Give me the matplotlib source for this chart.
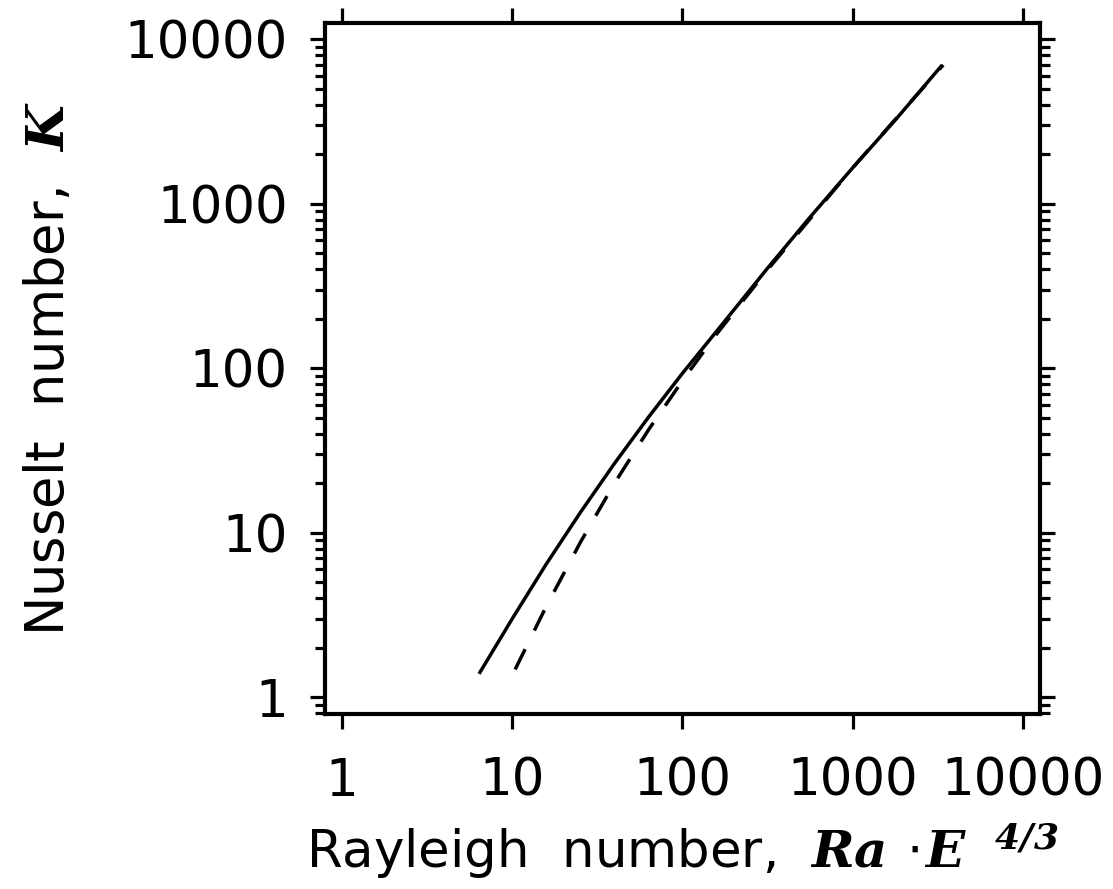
import matplotlib
matplotlib.use("Agg")
import matplotlib.pyplot as plt
from matplotlib.ticker import LogLocator, FixedLocator, FixedFormatter, NullFormatter

# solid curve
ra_solid = [6.46, 10, 15.8, 25.1, 39.8, 63.1, 100, 178, 316, 562, 1000, 1778, 3296]
nu_solid = [1.42, 3.01, 6.44, 13.3, 26.4, 50.5, 93.5, 195, 407, 832, 1660, 3236, 6850]

# dashed curve
ra_dash = [10.4, 15.8, 25.1, 39.8, 63.1, 100, 158, 316, 1000, 3400]
nu_dash = [1.48, 3.56, 8.75, 20.0, 42.3, 84.3, 161, 398, 1660, 7000]

tick_vals = [1, 10, 100, 1000, 10000]
tick_labels = ["1", "10", "100", "1000", "10000"]

plt.rcParams['font.family'] = 'DejaVu Sans'
plt.rcParams['mathtext.fontset'] = 'custom'
plt.rcParams['mathtext.it'] = 'DejaVu Serif:italic:bold'
plt.rcParams['mathtext.bf'] = 'DejaVu Serif:italic:bold'
plt.rcParams['mathtext.rm'] = 'DejaVu Sans'

fig = plt.figure(figsize=(11.13, 8.89), dpi=100)
ax = fig.add_axes([0.292, 0.197, 0.6424, 0.7771])

ax.plot(ra_solid, nu_solid, color='black', lw=2.5)
ax.plot(ra_dash, nu_dash, color='black', lw=2.5, dashes=(6.5, 6))

ax.set_xscale('log')
ax.set_yscale('log')
ax.set_xlim(10 ** -0.1, 10 ** 4.1)
ax.set_ylim(10 ** -0.1, 10 ** 4.1)

for axis in (ax.xaxis, ax.yaxis):
    axis.set_major_locator(FixedLocator(tick_vals))
    axis.set_major_formatter(FixedFormatter(tick_labels))
    axis.set_minor_locator(LogLocator(base=10, subs=range(2, 10)))
    axis.set_minor_formatter(NullFormatter())

ax.tick_params(which='both', direction='out', top=True, right=True, width=2.3, color='black')
ax.tick_params(which='major', length=10.8, labelsize=37)
ax.tick_params(which='minor', length=7)
ax.tick_params(axis='x', which='major', pad=20)
ax.tick_params(axis='y', which='major', pad=16)

for s in ax.spines.values():
    s.set_linewidth(3)

ax.set_xlabel(r"Rayleigh  number,  $Ra\,\cdot\!E\;\;^{\mathbf{4/3}}$", fontsize=37)
ax.xaxis.set_label_coords(0.5, -0.155)
ax.set_ylabel(r"Nusselt  number,  $K$", fontsize=38)
ax.yaxis.set_label_coords(-0.35, 0.5)

fig.savefig("out.png", dpi=100)
